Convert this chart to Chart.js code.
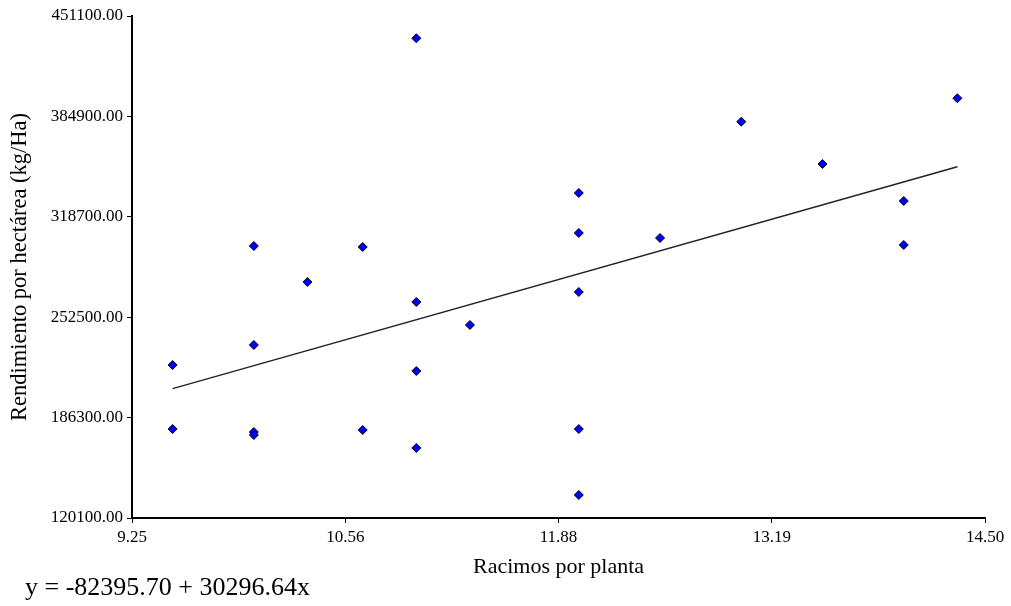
<!DOCTYPE html>
<html lang="es">
<head>
  <meta charset="UTF-8">
  <title>Racimos por planta vs rendimiento</title>
  <script src="https://cdn.jsdelivr.net/npm/chart.js"></script>
  <style>
    body {
      margin: 0;
      background: #fff;
    }
    .wrap {
      position: relative;
      width: 1011px;
      height: 606px;
    }
    .ecuacion {
      position: absolute;
      left: 25px;
      top: 572px;
      font-family: "Liberation Serif", "Times New Roman", serif;
      font-size: 26px;
      color: #000;
      white-space: nowrap;
    }
  </style>
</head>
<body>
  <div class="wrap">
    <canvas id="grafico" width="1011" height="606"></canvas>
    <div class="ecuacion" id="ecuacion"></div>
  </div>

  <script>
    // racimos por planta / rendimiento (kg/Ha)
    const racimos = [9.5, 9.5, 10, 10, 10, 10, 10.33, 10.67, 10.67, 11, 11, 11, 11,
                     11.33, 12, 12, 12, 12, 12, 12.5, 13, 13.5, 14, 14, 14.33];
    const rendimiento = [220980, 178780, 299440, 234170, 176810, 174830, 275720, 298800,
                         178130, 436420, 262530, 217030, 166260, 247360, 334400, 308030,
                         269120, 178780, 135270, 304730, 381420, 353530, 329130, 300120, 396850];

    // recta de regresion: y = a + b x
    const intercepto = -82395.70;
    const pendiente = 30296.64;
    const xRecta = [9.5, 14.33];

    const xTicks = [9.25, 10.5625, 11.875, 13.1875, 14.5];
    const xTickLabels = ["9.25", "10.56", "11.88", "13.19", "14.50"];
    const yTicks = [120100, 186300, 252500, 318700, 384900, 451100];
    const yTickLabels = ["120100.00", "186300.00", "252500.00", "318700.00", "384900.00", "451100.00"];

    const puntos = racimos.map((x, i) => ({ x: x, y: rendimiento[i] }));
    const recta = xRecta.map(x => ({ x: x, y: intercepto + pendiente * x }));

    document.getElementById("ecuacion").textContent =
      "y = " + intercepto.toFixed(2) + " + " + pendiente.toFixed(2) + "x";

    const fuente = "'Liberation Serif', 'Times New Roman', serif";

    new Chart(document.getElementById("grafico"), {
      type: "scatter",
      data: {
        datasets: [
          {
            data: puntos,
            pointStyle: "rectRot",
            pointRadius: 4.5,
            pointHoverRadius: 4.5,
            backgroundColor: "#0000ff",
            borderColor: "#000",
            borderWidth: 1,
            order: 1
          },
          {
            type: "line",
            data: recta,
            borderColor: "#222",
            borderWidth: 1.5,
            pointRadius: 0,
            fill: false,
            order: 2
          }
        ]
      },
      options: {
        responsive: false,
        animation: false,
        layout: { padding: { top: 16, right: 26, left: 0, bottom: 26 } },
        plugins: {
          legend: { display: false },
          tooltip: { enabled: false }
        },
        scales: {
          x: {
            type: "linear",
            min: 9.25,
            max: 14.5,
            afterBuildTicks: s => { s.ticks = xTicks.map(v => ({ value: v })); },
            afterFit: s => { s.height = 62; },
            ticks: {
              callback: (v, i) => xTickLabels[i],
              color: "#000",
              padding: 4,
              maxRotation: 0,
              font: { family: fuente, size: 17 }
            },
            grid: { drawOnChartArea: false, drawTicks: true, tickLength: 5, color: "#000" },
            border: { display: true, color: "#000", width: 2 },
            title: {
              display: true,
              text: "Racimos por planta",
              color: "#000",
              padding: 0,
              font: { family: fuente, size: 22 }
            }
          },
          y: {
            type: "linear",
            min: 120100,
            max: 451100,
            afterBuildTicks: s => { s.ticks = yTicks.map(v => ({ value: v })); },
            afterFit: s => { s.width = 132; },
            ticks: {
              callback: (v, i) => yTickLabels[i],
              color: "#000",
              padding: 4,
              font: { family: fuente, size: 17 }
            },
            grid: { drawOnChartArea: false, drawTicks: true, tickLength: 5, color: "#000" },
            border: { display: true, color: "#000", width: 2 },
            title: {
              display: true,
              text: "Rendimiento por hectárea (kg/Ha)",
              color: "#000",
              padding: { top: 7, bottom: 0 },
              font: { family: fuente, size: 22.5 }
            }
          }
        }
      }
    });
  </script>
</body>
</html>
